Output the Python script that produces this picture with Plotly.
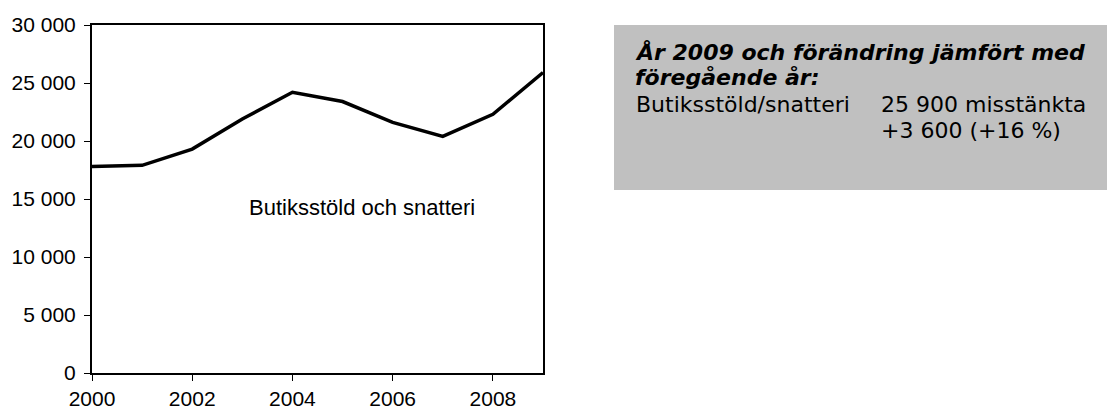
import plotly.graph_objects as go

years = [2000, 2001, 2002, 2003, 2004, 2005, 2006, 2007, 2008, 2009]
suspects = [17800, 17900, 19300, 21900, 24200, 23400, 21600, 20400, 22300, 25900]

x_tickvals = [2000, 2002, 2004, 2006, 2008]
y_tickvals = [0, 5000, 10000, 15000, 20000, 25000, 30000]
y_ticktext = ["0", "5 000", "10 000", "15 000", "20 000", "25 000", "30 000"]

series_label = "Butiksstöld och snatteri"
box_title_1 = "<b><i>År 2009 och förändring jämfört med</i></b>"
box_title_2 = "<b><i>föregående år:</i></b>"
box_row_label = "Butiksstöld/snatteri"
box_row_value = "25 900 misstänkta"
box_row_change = "+3 600 (+16 %)"

W, H = 1107, 412
L, R, T, B = 92, 543, 25, 373  # plot area in pixels
pw, ph = R - L, B - T

def px(x):
    return (x - L) / pw

def py(y):
    return (B - y) / ph

FONT = "Liberation Sans, Arial, sans-serif"
BOX_FONT = "DejaVu Sans, Liberation Sans, sans-serif"

fig = go.Figure()
fig.add_trace(go.Scatter(
    x=years, y=suspects, mode="lines",
    line=dict(color="black", width=3.5),
    hoverinfo="x+y", showlegend=False,
))

fig.update_layout(
    width=W, height=H, autosize=False,
    margin=dict(l=L, r=W - R, t=T, b=H - B, pad=0, autoexpand=False),
    paper_bgcolor="white", plot_bgcolor="white",
    font=dict(family=FONT, color="black", size=21),
    xaxis=dict(
        range=[2000, 2009], tickvals=x_tickvals, automargin=False,
        showgrid=False, zeroline=False,
        showline=True, linecolor="black", linewidth=2, mirror=True,
        ticks="outside", ticklen=6, tickwidth=1, tickcolor="black",
        tickfont=dict(size=21, family=FONT), ticklabelstandoff=0,
    ),
    yaxis=dict(
        range=[0, 30000], tickvals=y_tickvals, ticktext=y_ticktext, automargin=False,
        showgrid=False, zeroline=False,
        showline=True, linecolor="black", linewidth=2, mirror=True,
        ticks="outside", ticklen=6, tickwidth=1, tickcolor="black",
        tickfont=dict(size=21, family=FONT), ticklabelstandoff=4,
    ),
    shapes=[dict(
        type="rect", xref="paper", yref="paper",
        x0=px(614), x1=px(W + 2), y0=py(190), y1=py(25),
        fillcolor="#c0c0c0", line=dict(width=0), layer="below",
    )],
)

annos = [
    dict(x=px(362), y=py(207), text=series_label, xanchor="center", font=dict(size=22, family=FONT)),
    dict(x=px(634), y=py(52), text=box_title_1, xanchor="left", font=dict(size=22, family=BOX_FONT)),
    dict(x=px(634), y=py(77), text=box_title_2, xanchor="left", font=dict(size=22, family=BOX_FONT)),
    dict(x=px(635), y=py(104), text=box_row_label, xanchor="left", font=dict(size=22, family=BOX_FONT)),
    dict(x=px(880), y=py(104), text=box_row_value, xanchor="left", font=dict(size=22, family=BOX_FONT)),
    dict(x=px(880), y=py(130), text=box_row_change, xanchor="left", font=dict(size=22, family=BOX_FONT)),
]
for a in annos:
    fig.add_annotation(xref="paper", yref="paper", showarrow=False, borderpad=0,
                       yanchor="middle", align="left", **a)

fig.write_html(
    "out.html",
    config={"displayModeBar": False},
    post_script="document.body.style.margin='0';document.body.style.overflow='hidden';",
)
